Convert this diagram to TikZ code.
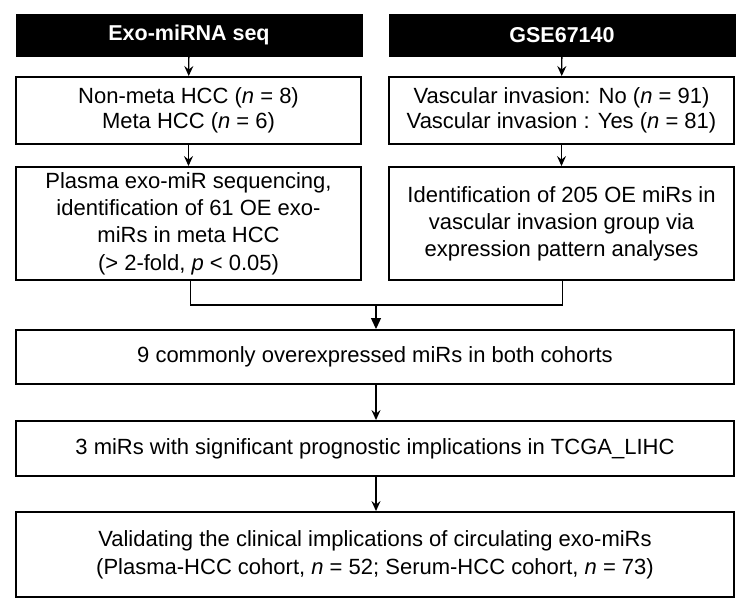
\documentclass[tikz,border=0pt]{standalone}
\usepackage{fontspec}
\setmainfont{Liberation Sans}
\usetikzlibrary{arrows.meta}
\begin{document}
\begin{tikzpicture}[x=1pt,y=1pt,
  hdr/.style={fill=black,draw=black,text=white,font=\fontsize{21.5}{24}\selectfont\bfseries,inner sep=0pt,minimum height=42pt,minimum width=346pt,anchor=center},
  box/.style={draw=black,line width=1.9pt,fill=white,inner sep=0pt,align=center,font=\fontsize{22}{25}\selectfont,anchor=center},
  arr/.style={line width=1.3pt,-{Stealth[width=9pt,length=10pt,inset=3.5pt]}},
  arrt/.style={line width=1.2pt,-{Triangle[width=10pt,length=11pt]}},
  con/.style={line width=1.2pt}]
\useasboundingbox (0,0) rectangle (744,-609);
\node[hdr] (hL) at (189,-35) {Exo-miRNA seq};
\node[hdr] (hR) at (562,-35) {GSE67140};
\node[box,minimum width=345pt,minimum height=67pt] (bL1) at (188.5,-110.5) {Non-meta HCC (\textit{n} = 8)\\Meta HCC (\textit{n} = 6)};
\node[box,minimum width=345pt,minimum height=67pt] (bR1) at (561.5,-110.5) {Vascular invasion: No (\textit{n} = 91)\\Vascular invasion : Yes (\textit{n} = 81)};
\node[box,minimum width=345pt,minimum height=113pt,font=\fontsize{22}{27.3}\selectfont] (bL2) at (188.5,-223.5) {Plasma exo-miR sequencing,\\identification of 61 OE exo-\\miRs in meta HCC\\(> 2-fold, \textit{p} < 0.05)};
\node[box,minimum width=345pt,minimum height=113pt,font=\fontsize{22}{27}\selectfont] (bR2) at (561.5,-223.5) {Identification of 205 OE miRs in\\vascular invasion group via\\expression pattern analyses};
\node[box,minimum width=718pt,minimum height=54pt] (b4) at (375,-357) {9 commonly  overexpressed miRs in both cohorts};
\node[box,minimum width=718pt,minimum height=55pt] (b5) at (375,-448.5) {3 miRs with significant prognostic implications in TCGA\_LIHC};
\node[box,minimum width=718pt,minimum height=85pt,font=\fontsize{22}{28}\selectfont] (b6) at (375,-554.5) {Validating the clinical implications of circulating exo-miRs\\(Plasma-HCC cohort, \textit{n} = 52; Serum-HCC cohort, \textit{n} = 73)};
\coordinate (lc) at (190.7,-280);
\coordinate (rc) at (562.7,-280);
\coordinate (j) at (376,-305);
\draw[arr] (hL) -- (bL1);
\draw[arr] (hR) -- (bR1);
\draw[arr] (bL1) -- (bL2);
\draw[arr] (bR1) -- (bR2);
\draw[con] (lc) |- (j) -| (rc);
\draw[arrt] (j) -- (b4.north -| j);
\draw[arr] (b4.south -| j) -- (b5.north -| j);
\draw[arr] (b5.south -| j) -- (b6.north -| j);
\end{tikzpicture}
\end{document}
